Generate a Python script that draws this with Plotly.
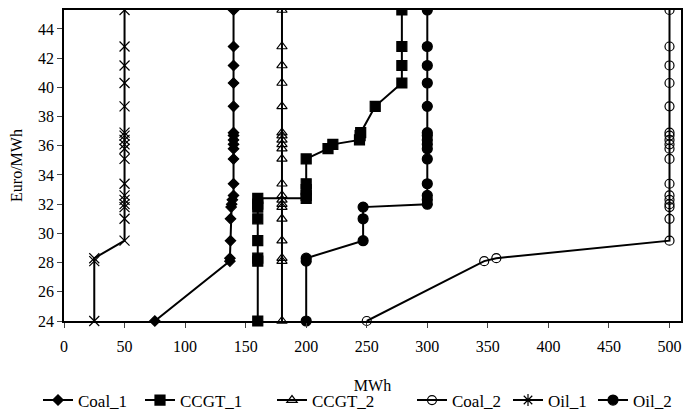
import plotly.graph_objects as go

# Price levels (Euro/MWh)
levels = [24.0, 28.1, 28.3, 29.5, 31.0, 31.8, 32.0, 32.3, 32.6, 33.4, 35.1,
          35.8, 36.1, 36.4, 36.7, 36.9, 38.7, 40.3, 41.5, 42.8, 45.3]

coal1_x = [75, 137, 137, 137.5, 137.5, 138, 138.5, 139, 140, 140, 140,
           140, 140, 140, 140, 140, 140, 140, 140, 140, 140]
coal1_y = levels

ccgt1_x = [160, 160, 160, 160, 160, 160, 160, 160, 200, 200, 200, 200, 200,
           218, 222, 244, 244.5, 245, 257, 279, 279, 279, 279]
ccgt1_y = [24.0, 28.1, 28.3, 29.5, 31.0, 31.8, 32.0, 32.4, 32.4, 32.6, 33.0, 33.4, 35.1,
           35.8, 36.1, 36.4, 36.7, 36.9, 38.7, 40.3, 41.5, 42.8, 45.3]

ccgt2_x = [180] * 21
ccgt2_y = levels

coal2_x = [250, 347, 357, 500, 500, 500, 500, 500, 500, 500, 500,
           500, 500, 500, 500, 500, 500, 500, 500, 500, 500]
coal2_y = levels

oil1_x = [25, 25, 25, 50, 50, 50, 50, 50, 50, 50, 50,
          50, 50, 50, 50, 50, 50, 50, 50, 50, 50]
oil1_y = levels

oil2_x = [200, 200, 200, 247, 247, 247, 300, 300, 300, 300, 300,
          300, 300, 300, 300, 300, 300, 300, 300, 300, 300]
oil2_y = levels

x_ticks = [0, 50, 100, 150, 200, 250, 300, 350, 400, 450, 500]
y_ticks = [24, 26, 28, 30, 32, 34, 36, 38, 40, 42, 44]

series_names = ["Coal_1", "CCGT_1", "CCGT_2", "Coal_2", "Oil_1", "Oil_2"]
legend_left_px = [43, 145, 277, 417, 513, 598]   # screen px where each legend line starts

FONT = "Liberation Serif"
# page body offsets the figure by 8px; plot area spans screen x 64..681, y 10..323
ML, MR, MT, MB = 56, 22, 2, 98
W, H = 695, 413
PLOT_W = W - ML - MR
PLOT_H = H - MT - MB

fig = go.Figure()

def mk(name, xs, ys, symbol, size, legend, show=True, lw=1.2):
    fig.add_trace(go.Scatter(
        x=xs, y=ys, name=name, mode="lines+markers",
        line=dict(color="black", width=2),
        marker=dict(symbol=symbol, size=size, color="black",
                    line=dict(color="black", width=lw)),
        cliponaxis=False, showlegend=show, legend=legend,
    ))

mk("Coal_1", coal1_x, coal1_y, "diamond", 8, "legend")
mk("CCGT_1", ccgt1_x, ccgt1_y, "square", 10, "legend2")
mk("CCGT_2", ccgt2_x, ccgt2_y, "triangle-up-open", 9, "legend3")
mk("Coal_2", coal2_x, coal2_y, "circle-open", 9, "legend4")
mk("Oil_1", oil1_x, oil1_y, "x-thin-open", 10, "legend5", show=False)
fig.add_trace(go.Scatter(
    x=[None], y=[None], name="Oil_1", mode="lines+markers",
    line=dict(color="black", width=2),
    marker=dict(symbol="asterisk-open", size=10, color="black",
                line=dict(color="black", width=1.2)),
    legend="legend5",
))
mk("Oil_2", oil2_x, oil2_y, "circle", 10, "legend6")

legend_y = (H - MB - (403 - 8)) / PLOT_H
legends = {}
for i, px in enumerate(legend_left_px):
    key = "legend" if i == 0 else f"legend{i+1}"
    legends[key] = dict(
        x=(px - 8 - ML - 5) / PLOT_W, xanchor="left",
        y=legend_y, yanchor="middle", orientation="h",
        font=dict(family=FONT, size=17, color="black"),
        bgcolor="rgba(0,0,0,0)", borderwidth=0,
    )

fig.update_layout(
    width=W, height=H,
    margin=dict(l=ML, r=MR, t=MT, b=MB),
    paper_bgcolor="white", plot_bgcolor="white",
    font=dict(family=FONT, size=16, color="black"),
    showlegend=True,
    xaxis=dict(
        range=[0, 509.5], tickvals=x_ticks, ticktext=[str(v) for v in x_ticks],
        showgrid=False, zeroline=False, showline=True, linecolor="black", linewidth=1.5,
        mirror=True, ticks="outside", ticklen=5, tickcolor="#444", tickwidth=1,
        automargin=False, ticklabelstandoff=5,
        title=dict(text="MWh", font=dict(family=FONT, size=16), standoff=26),
        tickfont=dict(family=FONT, size=16),
    ),
    yaxis=dict(
        range=[24, 45.3], tickvals=y_ticks, ticktext=[str(v) for v in y_ticks],
        showgrid=False, zeroline=False, showline=True, linecolor="black", linewidth=1.5,
        mirror=True, ticks="outside", ticklen=5, tickcolor="#444", tickwidth=1,
        automargin=False,
        title=dict(text="Euro/MWh", font=dict(family=FONT, size=16), standoff=12),
        tickfont=dict(family=FONT, size=16),
    ),
    **legends,
)

fig.write_html("out.html")
